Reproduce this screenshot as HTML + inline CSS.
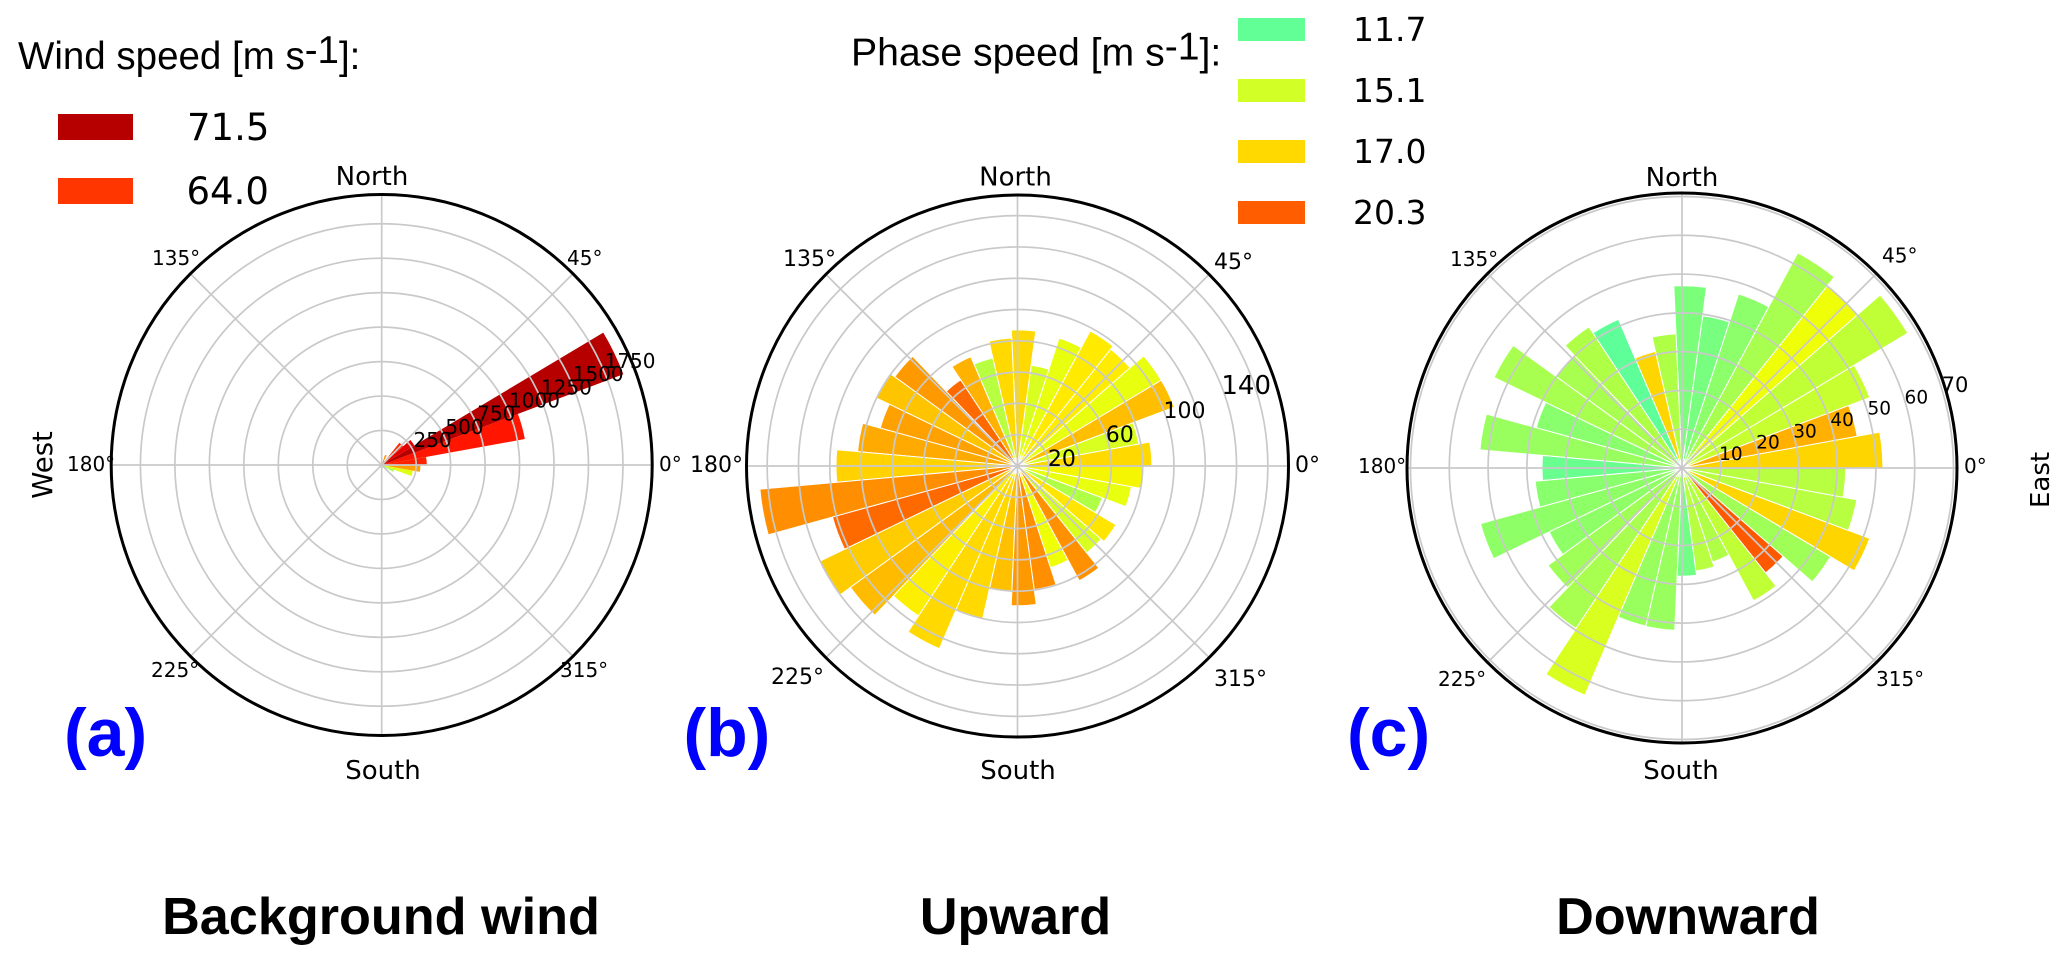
<!DOCTYPE html>
<html lang="en">
<head>
<meta charset="utf-8">
<title>Wind and phase speed polar histograms</title>
<style>
html,body{margin:0;padding:0;background:#fff;}
svg{display:block;}
.dj{font-family:"DejaVu Sans",sans-serif;fill:#000;}
.li{font-family:"Liberation Sans",sans-serif;fill:#000;}
.title{font-family:"Liberation Sans",sans-serif;font-weight:bold;font-size:52.2px;fill:#000;text-anchor:middle;}
.tag{font-family:"Liberation Sans",sans-serif;font-weight:bold;font-size:68px;fill:#0000ff;}
.card{font-size:26px;text-anchor:middle;}
.ang{font-size:20px;}
.ang2{font-size:22px;}
</style>
</head>
<body>
<svg id="chart" xmlns="http://www.w3.org/2000/svg" width="2067" height="963" viewBox="0 0 2067 963">
  <rect x="0" y="0" width="2067" height="963" fill="#fff"/>
  <g id="panel-a"></g>
  <g id="panel-b"></g>
  <g id="panel-c"></g>

  <!-- Legend (a) -->
  <text class="li" x="18" y="69" font-size="38.5">Wind speed [m s<tspan dy="-6">-1</tspan><tspan dy="6">]:</tspan></text>
  <rect id="lg-w1" x="58" y="114" width="75" height="26"/>
  <text class="dj" x="187" y="140" font-size="37">71.5</text>
  <rect id="lg-w2" x="58" y="178" width="75" height="26"/>
  <text class="dj" x="186.5" y="204" font-size="37">64.0</text>

  <!-- Legend (b/c) -->
  <text class="li" x="851" y="65.5" font-size="39.2">Phase speed [m s<tspan dy="-6">-1</tspan><tspan dy="6">]:</tspan></text>
  <rect id="lg-p1" x="1238" y="18" width="67" height="23"/>
  <text class="dj" x="1353" y="41" font-size="33">11.7</text>
  <rect id="lg-p2" x="1238" y="79" width="67" height="23"/>
  <text class="dj" x="1353" y="102" font-size="33">15.1</text>
  <rect id="lg-p3" x="1238" y="140" width="67" height="23"/>
  <text class="dj" x="1353" y="163" font-size="33">17.0</text>
  <rect id="lg-p4" x="1238" y="201" width="67" height="23"/>
  <text class="dj" x="1353" y="224" font-size="33">20.3</text>

  <!-- Direction labels (a) -->
  <text class="dj card" x="372" y="185">North</text>
  <text class="dj card" x="383" y="779">South</text>
  <text class="dj ang" x="152" y="265">135°</text>
  <text class="dj ang" x="567" y="265">45°</text>
  <text class="dj ang" x="67" y="471">180°</text>
  <text class="dj ang" x="659" y="471">0°</text>
  <text class="dj ang" x="151" y="677">225°</text>
  <text class="dj ang" x="560" y="677">315°</text>
  <text class="dj" font-size="27.5" text-anchor="middle" transform="translate(52,465) rotate(-90)">West</text>

  <!-- Direction labels (b) -->
  <text class="dj card" x="1015.5" y="185.5">North</text>
  <text class="dj card" x="1018" y="779">South</text>
  <text class="dj ang2" x="783" y="266">135°</text>
  <text class="dj ang2" x="1214" y="269">45°</text>
  <text class="dj ang2" x="690" y="472">180°</text>
  <text class="dj ang2" x="1295" y="472">0°</text>
  <text class="dj ang2" x="771" y="684">225°</text>
  <text class="dj ang2" x="1214" y="686">315°</text>

  <!-- Direction labels (c) -->
  <text class="dj card" x="1682" y="186">North</text>
  <text class="dj card" x="1681" y="779">South</text>
  <text class="dj ang" x="1450" y="266">135°</text>
  <text class="dj ang" x="1882" y="262.5">45°</text>
  <text class="dj ang" x="1358" y="473">180°</text>
  <text class="dj ang" x="1964" y="473">0°</text>
  <text class="dj ang" x="1438" y="686">225°</text>
  <text class="dj ang" x="1876" y="686">315°</text>
  <text class="dj" font-size="26" text-anchor="middle" transform="translate(2049,480) rotate(-90)">East</text>

  <!-- Panel tags and titles -->
  <text class="tag" x="64" y="756">(a)</text>
  <text class="tag" x="683.5" y="756">(b)</text>
  <text class="tag" x="1347" y="756">(c)</text>
  <text class="title" x="381" y="934">Background wind</text>
  <text class="title" x="1015.5" y="934">Upward</text>
  <text class="title" x="1688" y="934">Downward</text>
</svg>

<script>
const binCount = 35;

const windCounts = [327,1055,1872,276,206,35,77,15,8,0,0,0,0,0,0,0,0,0,0,0,0,0,0,0,0,0,0,0,0,0,0,40,97,230,281];
const windSpeeds = [65.7,66.6,71.5,68.4,64.9,58,56.8,50,45,40,40,40,40,40,40,40,40,40,40,40,40,40,40,40,40,40,40,40,40,40,40,35,40.8,46.6,55.6];
const windTicks = [250,500,750,1000,1250,1500,1750];

const upwardCounts = [85.9,78.8,107,107,95.5,98,86,65,87,81.8,70.8,76,66,97,100.4,91,102.6,116,165.3,122.7,140,132,114.8,127,100.6,80.3,89.3,79.7,68.4,83.3,71,73.3,58,74,80.8];
const upwardSpeeds = [17,15.3,17.7,15.8,16.5,16.55,15.8,15.3,17,17,14.3,18,19.95,18.7,17.55,18.5,18.25,17.2,19,19.95,17.35,17.8,16.4,17,17,17.67,18.7,19,16,18.9,15.3,16.7,14.1,15.8,16.2];
const upwardRings = [20,40,60,80,100,120,140,160];
const upwardTicks = [20,60,100,140];

const downwardCounts = [51.8,45.9,51.7,67.8,60,63,47.2,39.6,47,34.6,30.8,41.7,43.6,40,53.8,39,52.3,36.1,38,53.9,38,42.7,49.6,63.7,41.8,41.9,27.9,26.8,25.5,38.9,34.6,44.6,51.7,45.8,42.2];
const downwardSpeeds = [17.1,18.1,14.8,14.6,16,13.85,13,12.4,12.5,14.1,17.1,11.6,14.1,13.85,13.85,12.9,13.4,11.9,12.9,13.1,13.1,13.6,13.85,15.3,13.4,13.4,12.2,14.3,14.1,14.6,20.4,13.6,17.1,14.3,14.3];
const downwardTicks = [10,20,30,40,50,60,70];

const spokeAngles = [0,45,90,135,180,225,270,315];

const SVGNS = 'http://www.w3.org/2000/svg';

function clamp01(v){ return Math.max(0, Math.min(1, v)); }
function jet(t){
  t = clamp01(t);
  let r, g, b;
  if (t < 0.35) r = 0;
  else if (t < 0.66) r = (t - 0.35) / 0.31;
  else if (t < 0.89) r = 1;
  else r = 1 - 0.5 * (t - 0.89) / 0.11;
  if (t < 0.125) g = 0;
  else if (t < 0.375) g = (t - 0.125) / 0.25;
  else if (t < 0.64) g = 1;
  else if (t < 0.91) g = 1 - (t - 0.64) / 0.27;
  else g = 0;
  if (t < 0.11) b = 0.5 + 0.5 * t / 0.11;
  else if (t < 0.34) b = 1;
  else if (t < 0.65) b = 1 - (t - 0.34) / 0.31;
  else b = 0;
  return 'rgb(' + Math.round(r * 255) + ',' + Math.round(g * 255) + ',' + Math.round(b * 255) + ')';
}

function drawPanel(p){
  const g = document.getElementById(p.id);
  const rScale = v => v / p.rMax * p.R;
  const colorOf = s => jet(s / p.speedMax);
  const px = (deg, r) => p.cx + r * Math.cos(deg * Math.PI / 180);
  const py = (deg, r) => p.cy - r * Math.sin(deg * Math.PI / 180);
  const step = 360 / binCount;

  p.counts.forEach(function(v, k){
    if (v <= 0) return;
    const r = rScale(v);
    const a0 = k * step, a1 = (k + 1) * step;
    const path = document.createElementNS(SVGNS, 'path');
    path.setAttribute('d', 'M' + p.cx + ' ' + p.cy + 'L' + px(a0, r).toFixed(2) + ' ' + py(a0, r).toFixed(2) +
      'A' + r.toFixed(2) + ' ' + r.toFixed(2) + ' 0 0 0 ' + px(a1, r).toFixed(2) + ' ' + py(a1, r).toFixed(2) + 'Z');
    path.setAttribute('fill', colorOf(p.speeds[k]));
    path.setAttribute('stroke', p.barStroke);
    path.setAttribute('stroke-width', '1');
    
    
    g.appendChild(path);
  });

  p.rings.forEach(function(v){
    const c = document.createElementNS(SVGNS, 'circle');
    c.setAttribute('cx', p.cx);
    c.setAttribute('cy', p.cy);
    c.setAttribute('r', rScale(v).toFixed(2));
    c.setAttribute('fill', 'none');
    c.setAttribute('stroke', '#c9c9c9');
    c.setAttribute('stroke-width', '1.7');
    
    
    g.appendChild(c);
  });

  spokeAngles.forEach(function(a){
    const l = document.createElementNS(SVGNS, 'line');
    l.setAttribute('x1', p.cx);
    l.setAttribute('y1', p.cy);
    l.setAttribute('x2', px(a, p.R).toFixed(2));
    l.setAttribute('y2', py(a, p.R).toFixed(2));
    l.setAttribute('stroke', '#c9c9c9');
    l.setAttribute('stroke-width', '1.7');
    
    
    g.appendChild(l);
  });

  const border = document.createElementNS(SVGNS, 'circle');
  border.setAttribute('cx', p.cx);
  border.setAttribute('cy', p.cy);
  border.setAttribute('r', p.R);
  border.setAttribute('fill', 'none');
  border.setAttribute('stroke', '#000');
  border.setAttribute('stroke-width', '3');
  
  
  g.appendChild(border);

  p.ticks.forEach(function(v){
    const r = rScale(v);
    const t = document.createElementNS(SVGNS, 'text');
    t.setAttribute('x', (px(p.labelAngle, r) + p.labelDx).toFixed(2));
    t.setAttribute('y', (py(p.labelAngle, r) + p.labelDy).toFixed(2));
    t.setAttribute('class', 'dj');
    t.setAttribute('font-size', v === p.bigTick ? p.bigSize : p.labelSize);
    
    
    t.textContent = String(v);
    g.appendChild(t);
  });
}

drawPanel({id:'panel-a', cx:381.7, cy:465, R:270.5, rMax:1962, speedMax:75,
  counts:windCounts, speeds:windSpeeds, rings:windTicks, ticks:windTicks,
  barStroke:'none', labelAngle:22.5, labelDx:0, labelDy:-4.7, labelSize:20});
drawPanel({id:'panel-b', cx:1017.5, cy:466, R:271, rMax:173.2, speedMax:25,
  counts:upwardCounts, speeds:upwardSpeeds, rings:upwardRings, ticks:upwardTicks,
  barStroke:'#fff', labelAngle:22.5, labelDx:1.5, labelDy:12, labelSize:22, bigTick:140, bigSize:26});
drawPanel({id:'panel-c', cx:1682, cy:468, R:275, rMax:70.9, speedMax:25,
  counts:downwardCounts, speeds:downwardSpeeds, rings:downwardTicks, ticks:downwardTicks,
  barStroke:'#fff', labelAngle:17, labelDx:0, labelDy:3.3, labelSize:18.5, bigTick:70, bigSize:21});

document.getElementById('lg-w1').setAttribute('fill', jet(71.5 / 75));
document.getElementById('lg-w2').setAttribute('fill', jet(64.0 / 75));
document.getElementById('lg-p1').setAttribute('fill', jet(11.7 / 25));
document.getElementById('lg-p2').setAttribute('fill', jet(15.1 / 25));
document.getElementById('lg-p3').setAttribute('fill', jet(17.0 / 25));
document.getElementById('lg-p4').setAttribute('fill', jet(20.3 / 25));
</script>
</body>
</html>
